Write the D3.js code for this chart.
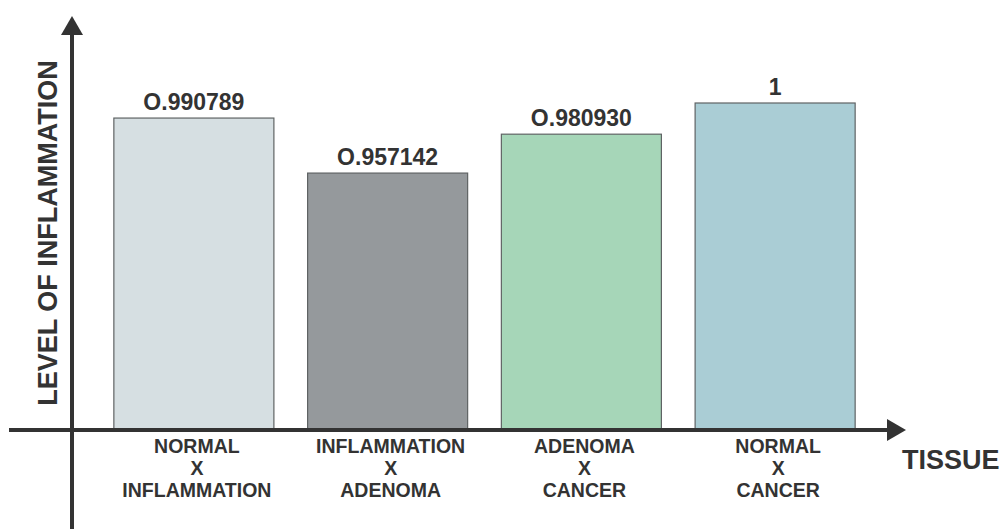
<!DOCTYPE html>
<html>
<head>
<meta charset="utf-8">
<script src="https://cdn.jsdelivr.net/npm/d3@7"></script>
<style>
  html, body { margin: 0; padding: 0; background: #ffffff; }
  svg { display: block; }
  text { font-family: "Liberation Sans", Arial, sans-serif; font-weight: bold; fill: #333333; }
</style>
</head>
<body>
<svg id="chart" width="1000" height="529"></svg>
<script>
// Comparison pairs along the tissue axis
const categories = ["NORMAL|X|INFLAMMATION", "INFLAMMATION|X|ADENOMA", "ADENOMA|X|CANCER", "NORMAL|X|CANCER"];
// Level of inflammation for each pair
const values = [0.990789, 0.957142, 0.980930, 1];
// Value labels as printed above each bar
const valueLabels = ["O.990789", "O.957142", "O.980930", "1"];
const barColors = ["#d6dfe2", "#95999c", "#a6d6b8", "#aacdd5"];

const svg = d3.select("#chart");
const ink = "#333333";

const x = d3.scaleBand()
  .domain(categories)
  .range([97, 872])
  .paddingInner(0.174)
  .paddingOuter(0.087);

const y = d3.scaleLinear()
  .domain([0.8, 1])
  .range([430, 103]);

// Bars
svg.append("g")
  .selectAll("rect")
  .data(values)
  .join("rect")
  .attr("x", (d, i) => x(categories[i]))
  .attr("y", d => y(d))
  .attr("width", x.bandwidth())
  .attr("height", d => y.range()[0] - y(d))
  .attr("fill", (d, i) => barColors[i])
  .attr("stroke", "#5f6364")
  .attr("stroke-width", 1.2);

// Value labels
svg.append("g")
  .selectAll("text")
  .data(values)
  .join("text")
  .attr("x", (d, i) => x(categories[i]) + x.bandwidth() / 2)
  .attr("y", d => y(d) - 8)
  .attr("text-anchor", "middle")
  .style("font-size", "23px")
  .text((d, i) => valueLabels[i]);

// Axes drawn as arrows
const axisY = y.range()[0];
svg.append("line")
  .attr("x1", 9).attr("x2", 889)
  .attr("y1", axisY).attr("y2", axisY)
  .attr("stroke", ink).attr("stroke-width", 4);
svg.append("path")
  .attr("d", `M887,${axisY - 11} L906,${axisY} L887,${axisY + 11} Z`)
  .attr("fill", ink);

const axisX = 72;
svg.append("line")
  .attr("x1", axisX).attr("x2", axisX)
  .attr("y1", 33).attr("y2", 529)
  .attr("stroke", ink).attr("stroke-width", 4);
svg.append("path")
  .attr("d", `M${axisX - 11},35 L${axisX},16 L${axisX + 11},35 Z`)
  .attr("fill", ink);

// Category labels under each bar
const catG = svg.append("g")
  .selectAll("text")
  .data(categories)
  .join("text")
  .attr("text-anchor", "middle")
  .style("font-size", "19.5px")
  .attr("transform", d => `translate(${x(d) + x.bandwidth() / 2 + 3},453)`);
catG.selectAll("tspan")
  .data(d => d.split("|"))
  .join("tspan")
  .attr("x", 0)
  .attr("y", (d, i) => i * 22)
  .text(d => d);

// Axis titles
svg.append("text")
  .attr("x", 902).attr("y", 469)
  .style("font-size", "27px")
  .text("TISSUE");

svg.append("text")
  .attr("transform", "translate(57,233) rotate(-90)")
  .attr("text-anchor", "middle")
  .style("font-size", "27px")
  .text("LEVEL OF INFLAMMATION");
</script>
</body>
</html>
